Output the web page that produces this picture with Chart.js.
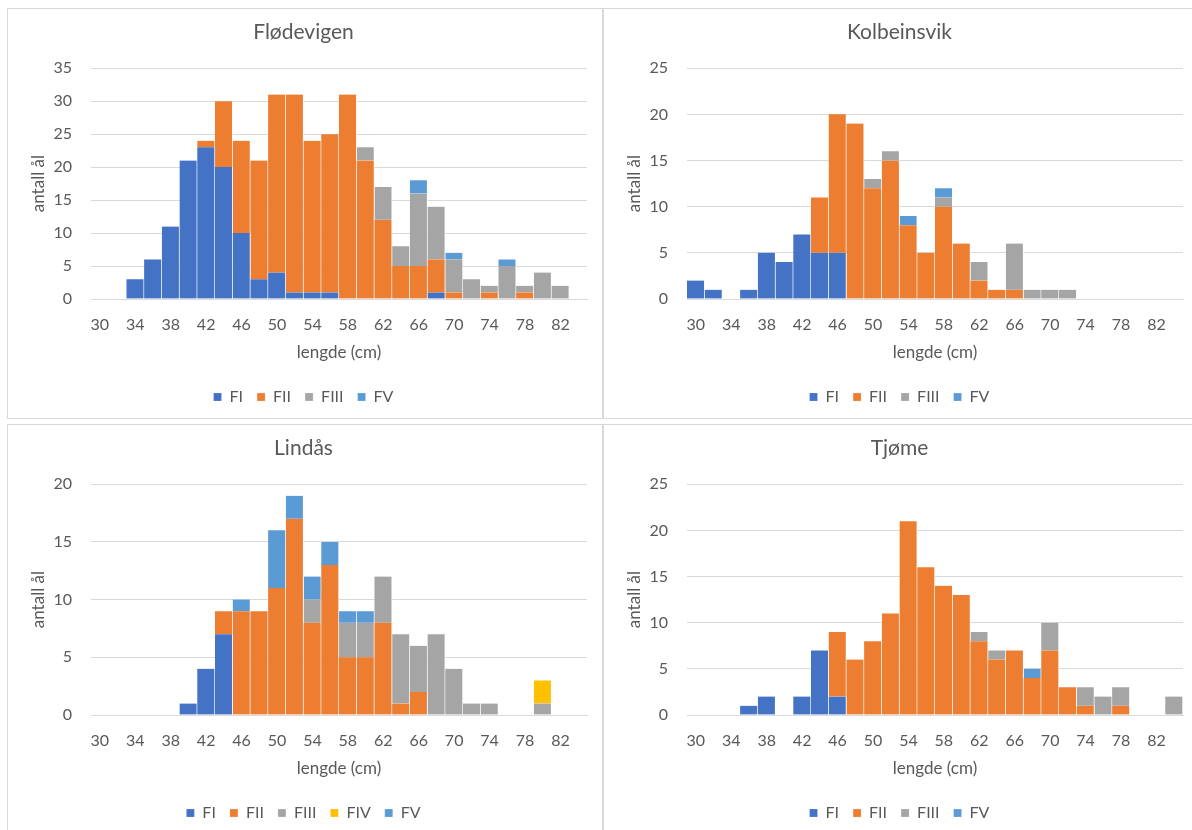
<!DOCTYPE html>
<html>
<head>
<meta charset="utf-8">
<script src="https://cdn.jsdelivr.net/npm/chart.js@4/dist/chart.umd.min.js"></script>
<style>
  html, body { margin: 0; padding: 0; background: #ffffff; }
  .panel { position: absolute; box-sizing: border-box; border: 1px solid #d9d9d9; background: #fff; overflow: hidden; }
  .panel canvas { position: absolute; left: 0; top: 0; }
</style>
</head>
<body>
<div class="panel" style="left:7px;top:8px;width:596px;height:411px;"><canvas id="c1" width="594" height="409"></canvas></div>
<div class="panel" style="left:603px;top:8px;width:591px;height:411px;"><canvas id="c2" width="589" height="409"></canvas></div>
<div class="panel" style="left:7px;top:424px;width:596px;height:411px;"><canvas id="c3" width="594" height="409"></canvas></div>
<div class="panel" style="left:603px;top:424px;width:591px;height:411px;"><canvas id="c4" width="589" height="409"></canvas></div>
<script>
// Length classes (cm), one bar per 2 cm class
const lengths = [30, 32, 34, 36, 38, 40, 42, 44, 46, 48, 50, 52, 54, 56, 58, 60, 62, 64, 66, 68, 70, 72, 74, 76, 78, 80, 82, 84];

// Flødevigen
const flodevigenFI   = [0, 0, 3, 6, 11, 21, 23, 20, 10, 3, 4, 1, 1, 1, 0, 0, 0, 0, 0, 1, 0, 0, 0, 0, 0, 0, 0, 0];
const flodevigenFII  = [0, 0, 0, 0, 0, 0, 1, 10, 14, 18, 27, 30, 23, 24, 31, 21, 12, 5, 5, 5, 1, 0, 1, 0, 1, 0, 0, 0];
const flodevigenFIII = [0, 0, 0, 0, 0, 0, 0, 0, 0, 0, 0, 0, 0, 0, 0, 2, 5, 3, 11, 8, 5, 3, 1, 5, 1, 4, 2, 0];
const flodevigenFV   = [0, 0, 0, 0, 0, 0, 0, 0, 0, 0, 0, 0, 0, 0, 0, 0, 0, 0, 2, 0, 1, 0, 0, 1, 0, 0, 0, 0];

// Kolbeinsvik
const kolbeinsvikFI   = [2, 1, 0, 1, 5, 4, 7, 5, 5, 0, 0, 0, 0, 0, 0, 0, 0, 0, 0, 0, 0, 0, 0, 0, 0, 0, 0, 0];
const kolbeinsvikFII  = [0, 0, 0, 0, 0, 0, 0, 6, 15, 19, 12, 15, 8, 5, 10, 6, 2, 1, 1, 0, 0, 0, 0, 0, 0, 0, 0, 0];
const kolbeinsvikFIII = [0, 0, 0, 0, 0, 0, 0, 0, 0, 0, 1, 1, 0, 0, 1, 0, 2, 0, 5, 1, 1, 1, 0, 0, 0, 0, 0, 0];
const kolbeinsvikFV   = [0, 0, 0, 0, 0, 0, 0, 0, 0, 0, 0, 0, 1, 0, 1, 0, 0, 0, 0, 0, 0, 0, 0, 0, 0, 0, 0, 0];

// Lindås
const lindasFI   = [0, 0, 0, 0, 0, 1, 4, 7, 0, 0, 0, 0, 0, 0, 0, 0, 0, 0, 0, 0, 0, 0, 0, 0, 0, 0, 0, 0];
const lindasFII  = [0, 0, 0, 0, 0, 0, 0, 2, 9, 9, 11, 17, 8, 13, 5, 5, 8, 1, 2, 0, 0, 0, 0, 0, 0, 0, 0, 0];
const lindasFIII = [0, 0, 0, 0, 0, 0, 0, 0, 0, 0, 0, 0, 2, 0, 3, 3, 4, 6, 4, 7, 4, 1, 1, 0, 0, 1, 0, 0];
const lindasFIV  = [0, 0, 0, 0, 0, 0, 0, 0, 0, 0, 0, 0, 0, 0, 0, 0, 0, 0, 0, 0, 0, 0, 0, 0, 0, 2, 0, 0];
const lindasFV   = [0, 0, 0, 0, 0, 0, 0, 0, 1, 0, 5, 2, 2, 2, 1, 1, 0, 0, 0, 0, 0, 0, 0, 0, 0, 0, 0, 0];

// Tjøme
const tjomeFI   = [0, 0, 0, 1, 2, 0, 2, 7, 2, 0, 0, 0, 0, 0, 0, 0, 0, 0, 0, 0, 0, 0, 0, 0, 0, 0, 0, 0];
const tjomeFII  = [0, 0, 0, 0, 0, 0, 0, 0, 7, 6, 8, 11, 21, 16, 14, 13, 8, 6, 7, 4, 7, 3, 1, 0, 1, 0, 0, 0];
const tjomeFIII = [0, 0, 0, 0, 0, 0, 0, 0, 0, 0, 0, 0, 0, 0, 0, 0, 1, 1, 0, 0, 3, 0, 2, 2, 2, 0, 0, 2];
const tjomeFV   = [0, 0, 0, 0, 0, 0, 0, 0, 0, 0, 0, 0, 0, 0, 0, 0, 0, 0, 0, 1, 0, 0, 0, 0, 0, 0, 0, 0];

// Stage colours
const stageColors = { FI: '#4472C4', FII: '#ED7D31', FIII: '#A5A5A5', FIV: '#FFC000', FV: '#5B9BD5' };

const textColor = '#595959';
const gridColor = '#d9d9d9';
const fontFamily = 'Lato, "Open Sans", sans-serif';

function stageSet(name, values) {
  return {
    label: name,
    data: values,
    backgroundColor: stageColors[name],
    borderColor: 'rgba(255,255,255,0.75)',
    borderWidth: { left: 0, right: 1, top: 0, bottom: 0 },
    borderSkipped: false,
    barPercentage: 1,
    categoryPercentage: 1
  };
}

function histogram(id, title, yMax, padRight, sets) {
  new Chart(document.getElementById(id), {
    type: 'bar',
    data: { labels: lengths, datasets: sets },
    options: {
      responsive: false,
      animation: false,
      devicePixelRatio: 1,
      layout: { padding: { left: 12, right: padRight, top: 0, bottom: 3 } },
      plugins: {
        title: {
          display: true,
          text: title,
          color: textColor,
          font: { family: fontFamily, size: 21, weight: 'normal' },
          padding: { top: 11, bottom: 23 }
        },
        legend: {
          position: 'bottom',
          labels: {
            color: textColor,
            font: { family: fontFamily, size: 16 },
            boxWidth: 8,
            boxHeight: 8,
            padding: 14
          }
        },
        tooltip: { enabled: false }
      },
      scales: {
        x: {
          stacked: true,
          grid: { display: false, drawTicks: false },
          border: { display: true, color: gridColor },
          ticks: {
            color: textColor,
            font: { family: fontFamily, size: 16 },
            autoSkip: false,
            maxRotation: 0,
            padding: 16,
            callback: function (value, index) { return index % 2 === 0 ? this.getLabelForValue(value) : ''; }
          },
          title: {
            display: true,
            text: 'lengde (cm)',
            color: textColor,
            font: { family: fontFamily, size: 17 },
            padding: { top: 0, bottom: 12 }
          },
          afterFit: function (s) { s.height = 76; }
        },
        y: {
          stacked: true,
          min: 0,
          max: yMax,
          grid: { color: gridColor, lineWidth: 1, drawTicks: false },
          border: { display: false },
          ticks: {
            stepSize: 5,
            color: textColor,
            font: { family: fontFamily, size: 16 },
            padding: 19
          },
          title: {
            display: true,
            text: 'antall ål',
            color: textColor,
            font: { family: fontFamily, size: 17 },
            padding: { top: 8, bottom: 0 }
          },
          afterFit: function (s) { s.width = 71; }
        }
      }
    }
  });
}

histogram('c1', 'Flødevigen', 35, 15, [
  stageSet('FI', flodevigenFI),
  stageSet('FII', flodevigenFII),
  stageSet('FIII', flodevigenFIII),
  stageSet('FV', flodevigenFV)
]);
histogram('c2', 'Kolbeinsvik', 25, 10, [
  stageSet('FI', kolbeinsvikFI),
  stageSet('FII', kolbeinsvikFII),
  stageSet('FIII', kolbeinsvikFIII),
  stageSet('FV', kolbeinsvikFV)
]);
histogram('c3', 'Lindås', 20, 15, [
  stageSet('FI', lindasFI),
  stageSet('FII', lindasFII),
  stageSet('FIII', lindasFIII),
  stageSet('FIV', lindasFIV),
  stageSet('FV', lindasFV)
]);
histogram('c4', 'Tjøme', 25, 10, [
  stageSet('FI', tjomeFI),
  stageSet('FII', tjomeFII),
  stageSet('FIII', tjomeFIII),
  stageSet('FV', tjomeFV)
]);
</script>
</body>
</html>
